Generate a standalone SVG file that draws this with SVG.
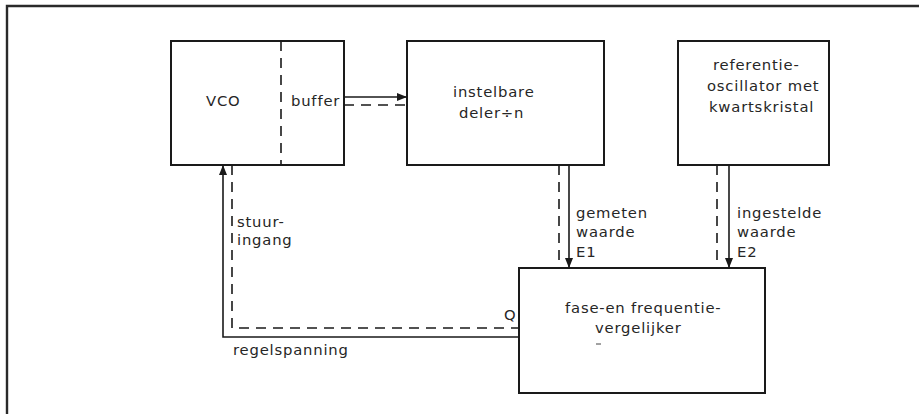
<svg xmlns="http://www.w3.org/2000/svg" width="919" height="414" viewBox="0 0 919 414">
<defs>
<style>
.box{fill:none;stroke:#1a1a1a;stroke-width:2}
.s{fill:none;stroke:#1a1a1a;stroke-width:1.6}
.d{fill:none;stroke:#1a1a1a;stroke-width:1.6;stroke-dasharray:10 7}
text{font-family:"DejaVu Sans","Liberation Sans",sans-serif;font-size:14.8px;fill:#262626;letter-spacing:0.8px}
</style>
<marker id="ah" viewBox="0 0 10 8" refX="10" refY="4" markerWidth="10" markerHeight="8" markerUnits="userSpaceOnUse" orient="auto">
<path d="M0,0 L10,4 L0,8 Z" fill="#1a1a1a"/>
</marker>
</defs>
<rect width="919" height="414" fill="#fff"/>
<path d="M7,414 V6 H919" fill="none" stroke="#2a2a2a" stroke-width="2.4"/>
<g id="vco">
<rect class="box" x="171" y="41" width="173" height="124"/>
<line class="d" x1="281" y1="41" x2="281" y2="165" stroke-dasharray="12 7"/>
<text x="206" y="106" letter-spacing="2.5">VCO</text>
<text x="291" y="106">buffer</text>
</g>
<g id="deler">
<rect class="box" x="407" y="41" width="197" height="124"/>
<text x="453" y="97">instelbare</text>
<text x="459" y="118">deler÷n</text>
</g>
<g id="ref">
<rect class="box" x="678" y="41" width="151" height="124"/>
<text x="713" y="70">referentie-</text>
<text x="707" y="91">oscillator met</text>
<text x="709" y="112">kwartskristal</text>
</g>
<g id="comp">
<rect class="box" x="519" y="268" width="246" height="125"/>
<text x="565" y="313">fase-en frequentie-</text>
<text x="595" y="333">vergelijker</text>
<line x1="596" y1="344" x2="601" y2="344" stroke="#444" stroke-width="1"/>
</g>
<g id="connectors">
<line class="s" x1="344" y1="97" x2="407" y2="97" marker-end="url(#ah)"/>
<line class="d" x1="344" y1="105" x2="407" y2="105"/>
<line class="s" x1="569" y1="165" x2="569" y2="268" marker-end="url(#ah)"/>
<line class="d" x1="559" y1="165" x2="559" y2="268"/>
<line class="s" x1="729" y1="165" x2="729" y2="268" marker-end="url(#ah)"/>
<line class="d" x1="717" y1="165" x2="717" y2="268"/>
<path class="s" d="M519,337 H223 V165" marker-end="url(#ah)"/>
<path class="d" d="M232,165 V328 H519"/>
</g>
<g id="labels">
<text x="237" y="227">stuur-</text>
<text x="237" y="245">ingang</text>
<text x="233" y="355">regelspanning</text>
<text x="504" y="320" letter-spacing="0">Q</text>
<text x="576" y="218">gemeten</text>
<text x="576" y="237">waarde</text>
<text x="576" y="257">E1</text>
<text x="737" y="218">ingestelde</text>
<text x="737" y="237">waarde</text>
<text x="737" y="257">E2</text>
</g>
</svg>
